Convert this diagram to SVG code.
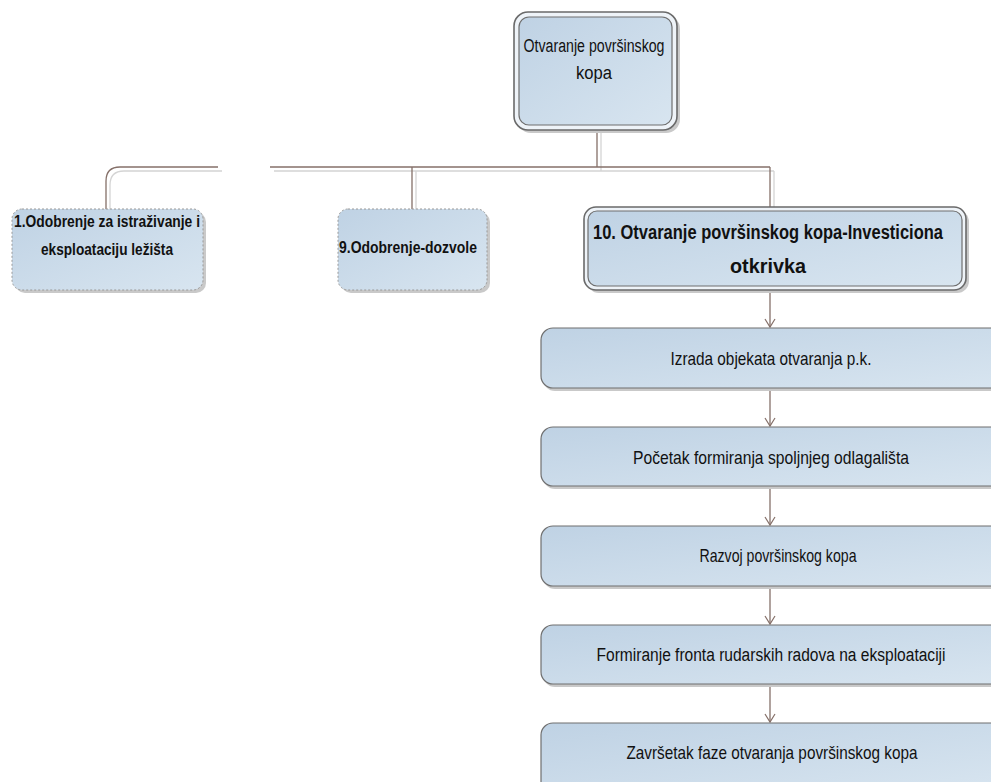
<svg xmlns="http://www.w3.org/2000/svg" width="991" height="782" viewBox="0 0 991 782">
<style>
.t{font-family:"Liberation Sans Narrow","Liberation Sans",Arial,sans-serif;fill:#111;text-anchor:middle}
.b{font-weight:bold}
.ln{fill:none;stroke:#857069;stroke-width:1.3}
.sh{fill:none;stroke:#d4d4d4;stroke-width:1.3}
.box{fill:url(#g);stroke:#6f6f6f;stroke-width:1.2}
.shd{fill:#c9c9c9}
</style>
<defs>
<linearGradient id="g" x1="0" y1="0" x2="1" y2="1">
<stop offset="0" stop-color="#bfd2e4"/>
<stop offset="1" stop-color="#d8e5f0"/>
</linearGradient>
<marker id="a" markerWidth="12" markerHeight="12" refX="10" refY="6" orient="auto" markerUnits="userSpaceOnUse">
<path d="M2,1 L10,6 L2,11" fill="none" stroke="#857069" stroke-width="1.2"/>
</marker>
</defs>
<g id="connectors">
<path class="sh" d="M601,131 V171 M222,171 H124 Q110,171 110,185 V210 M274,171 H774 M416,171 V210 M774,171 V208"/>
<path class="ln" d="M597,130 V167 M218,167 H120 Q106,167 106,181 V209 M270,167 H770 M412,167 V209 M770,167 V207"/>
<path class="ln" d="M770,290 V327" marker-end="url(#a)"/>
<path class="ln" d="M770,388 V426" marker-end="url(#a)"/>
<path class="ln" d="M770,486 V525" marker-end="url(#a)"/>
<path class="ln" d="M770,586 V624" marker-end="url(#a)"/>
<path class="ln" d="M770,684 V722" marker-end="url(#a)"/>
</g>
<g id="n0">
<rect class="shd" x="517" y="15" width="163" height="118" rx="14"/>
<rect x="514" y="12" width="163" height="118" rx="14" fill="#eef3f8" stroke="#6a6a6a" stroke-width="1.6"/>
<rect class="box" x="519" y="17" width="153" height="108" rx="10"/>
<text class="t" x="594" y="52" font-size="18" textLength="141" lengthAdjust="spacingAndGlyphs">Otvaranje površinskog</text>
<text class="t" x="594" y="79" font-size="18" textLength="36" lengthAdjust="spacingAndGlyphs">kopa</text>
</g>
<g id="n1">
<rect class="shd" x="15" y="212" width="191" height="81" rx="10"/>
<rect x="12" y="209" width="191" height="81" rx="10" fill="url(#g)" stroke="#9a9a9a" stroke-width="1" stroke-dasharray="2,2"/>
<text class="t b" x="107" y="227" font-size="17" textLength="186" lengthAdjust="spacingAndGlyphs">1.Odobrenje za istraživanje i</text>
<text class="t b" x="107" y="255" font-size="17" textLength="132" lengthAdjust="spacingAndGlyphs">eksploataciju ležišta</text>
</g>
<g id="n9">
<rect class="shd" x="341" y="212" width="149" height="81" rx="10"/>
<rect x="338" y="209" width="149" height="81" rx="10" fill="url(#g)" stroke="#9a9a9a" stroke-width="1" stroke-dasharray="2,2"/>
<text class="t b" x="408" y="253" font-size="17" textLength="138" lengthAdjust="spacingAndGlyphs">9.Odobrenje-dozvole</text>
</g>
<g id="n10">
<rect class="shd" x="587" y="210" width="382" height="83" rx="12"/>
<rect x="584" y="207" width="382" height="83" rx="12" fill="#eef3f8" stroke="#6a6a6a" stroke-width="1.6"/>
<rect class="box" x="588" y="211" width="374" height="75" rx="9"/>
<text class="t b" x="768" y="239" font-size="20" textLength="350" lengthAdjust="spacingAndGlyphs">10. Otvaranje površinskog kopa-Investiciona</text>
<text class="t b" x="768" y="273" font-size="20" textLength="76" lengthAdjust="spacingAndGlyphs">otkrivka</text>
</g>
<g id="s1">
<rect class="shd" x="543" y="331" width="470" height="60" rx="12"/>
<rect class="box" x="541" y="328" width="470" height="60" rx="12"/>
<text class="t" x="771" y="365" font-size="19" textLength="201" lengthAdjust="spacingAndGlyphs">Izrada objekata otvaranja p.k.</text>
</g>
<g id="s2">
<rect class="shd" x="543" y="430" width="470" height="59" rx="12"/>
<rect class="box" x="541" y="427" width="470" height="59" rx="12"/>
<text class="t" x="771" y="464" font-size="19" textLength="276" lengthAdjust="spacingAndGlyphs">Početak formiranja spoljnjeg odlagališta</text>
</g>
<g id="s3">
<rect class="shd" x="543" y="529" width="470" height="60" rx="12"/>
<rect class="box" x="541" y="526" width="470" height="60" rx="12"/>
<text class="t" x="778" y="562" font-size="19" textLength="157" lengthAdjust="spacingAndGlyphs">Razvoj površinskog kopa</text>
</g>
<g id="s4">
<rect class="shd" x="543" y="628" width="470" height="59" rx="12"/>
<rect class="box" x="541" y="625" width="470" height="59" rx="12"/>
<text class="t" x="771" y="661" font-size="18" textLength="349" lengthAdjust="spacingAndGlyphs">Formiranje fronta rudarskih radova na eksploataciji</text>
</g>
<g id="s5">
<rect class="box" x="541" y="723" width="470" height="70" rx="12"/>
<text class="t" x="772" y="759" font-size="19" textLength="291" lengthAdjust="spacingAndGlyphs">Završetak faze otvaranja površinskog kopa</text>
</g>
</svg>
